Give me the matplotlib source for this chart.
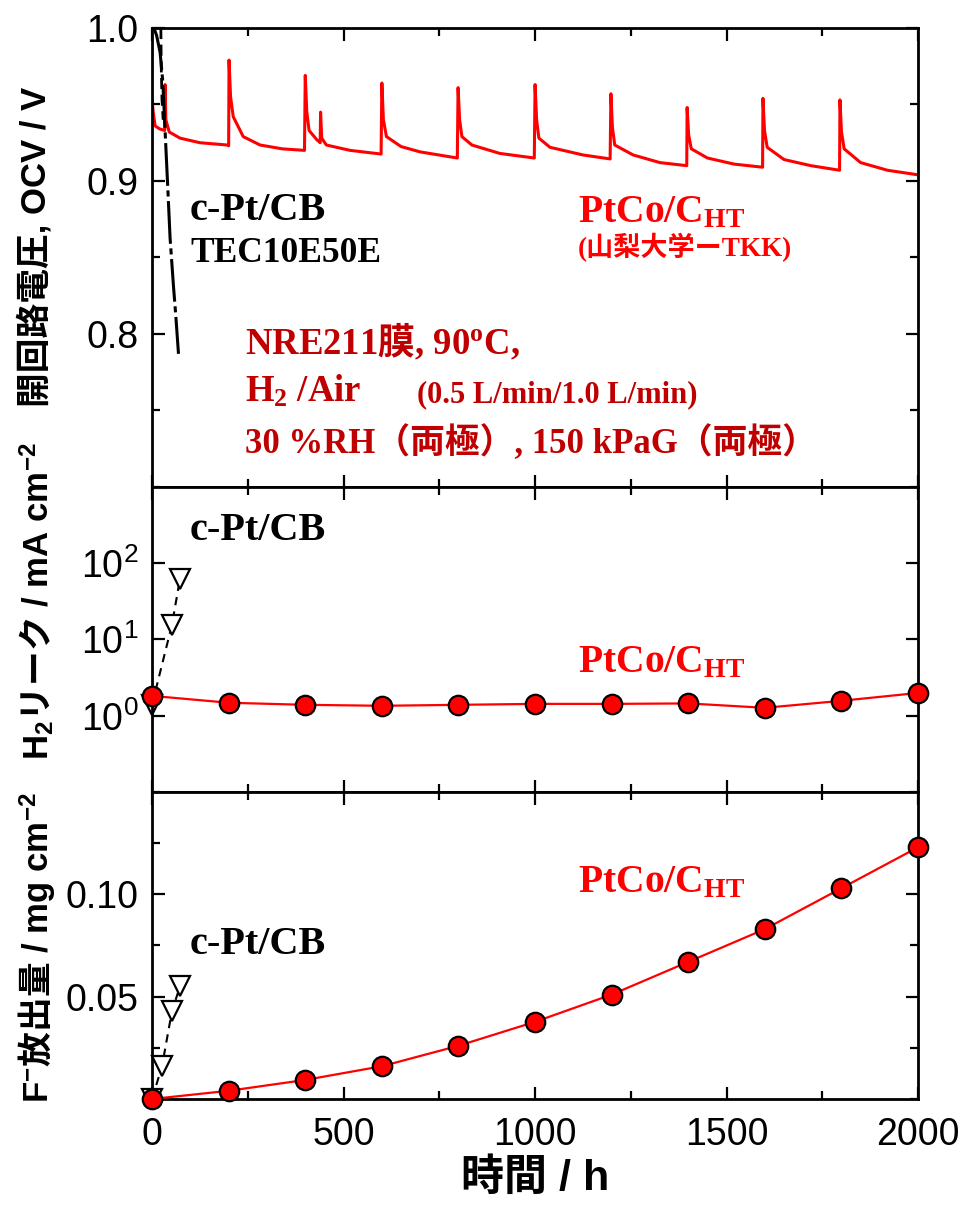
import matplotlib
matplotlib.use('Agg')
import matplotlib.pyplot as plt
from matplotlib.ticker import MultipleLocator, NullLocator

plt.rcParams['font.family'] = ['Liberation Sans', 'Noto Sans CJK JP']
plt.rcParams['mathtext.fontset'] = 'custom'
plt.rcParams['mathtext.rm'] = 'Noto Sans CJK JP:bold'
plt.rcParams['mathtext.it'] = 'Liberation Serif:bold'
plt.rcParams['mathtext.bf'] = 'Liberation Serif:bold'
plt.rcParams['mathtext.sf'] = 'Liberation Sans:bold'
plt.rcParams['mathtext.cal'] = 'Liberation Serif'
plt.rcParams['mathtext.tt'] = 'DejaVu Sans Mono'

# OCV of PtCo/C_HT (h / V)
ptco_ocv_t = [0, 3, 8, 20, 33, 34, 36, 45, 73, 125, 196, 200, 201, 205, 212, 238, 282, 340, 398,
              400, 404, 410, 430, 439, 440, 443, 455, 517, 598, 600, 604, 612, 650, 700, 797,
              799, 803, 809, 835, 908, 998, 1000, 1004, 1010, 1039, 1125, 1196, 1198, 1202, 1208,
              1256, 1326, 1396, 1397, 1401, 1408, 1450, 1520, 1594, 1595, 1599, 1606, 1650, 1720,
              1795, 1796, 1800, 1807, 1850, 1920, 2000]
ptco_ocv_v = [0.953, 0.945, 0.936, 0.934, 0.933, 0.963, 0.940, 0.932, 0.928, 0.925, 0.9235, 0.923,
              0.979, 0.955, 0.942, 0.929, 0.9235, 0.921, 0.920, 0.969, 0.945, 0.933, 0.927, 0.925,
              0.945, 0.928, 0.9235, 0.920, 0.9176, 0.964, 0.940, 0.929, 0.9225, 0.919, 0.915,
              0.961, 0.940, 0.929, 0.9235, 0.918, 0.915, 0.963, 0.940, 0.928, 0.922, 0.917, 0.9144,
              0.957, 0.935, 0.9235, 0.917, 0.912, 0.910, 0.948, 0.930, 0.921, 0.915, 0.911, 0.909,
              0.954, 0.933, 0.922, 0.914, 0.910, 0.907, 0.953, 0.932, 0.921, 0.912, 0.907, 0.904]

# OCV of c-Pt/CB
cpt_ocv_t = [5, 12, 21, 28, 34, 41, 47, 56, 62, 69]
cpt_ocv_v = [1.0, 0.995, 0.984, 0.965, 0.933, 0.896, 0.863, 0.831, 0.812, 0.787]
cpt_ocv2_t = [23, 24, 26, 29]
cpt_ocv2_v = [1.0, 0.975, 0.953, 0.940]

# H2 leak (mA cm-2)
ptco_t = [0, 200, 400, 600, 800, 1000, 1200, 1400, 1600, 1800, 2000]
ptco_leak = [1.82, 1.48, 1.39, 1.35, 1.39, 1.43, 1.43, 1.45, 1.27, 1.57, 1.99]
cpt_leak_t = [0, 52, 73]
cpt_leak = [1.4, 15.6, 63]

# F- release (mg cm-2)
ptco_f = [0.0, 0.004, 0.0093, 0.016, 0.026, 0.0377, 0.051, 0.067, 0.083, 0.103, 0.123]
cpt_f_t = [0, 26, 52, 73]
cpt_f = [0.0, 0.016, 0.043, 0.055]

dark_red = '#C00000'
serif_cjk = ['Liberation Serif', 'Noto Sans CJK JP']

fig = plt.figure(figsize=(9.66, 12.11), dpi=100)
ax1 = fig.add_axes([0.1574, 0.5979, 0.7930, 0.3790])
ax2 = fig.add_axes([0.1574, 0.3460, 0.7930, 0.2519])
ax3 = fig.add_axes([0.1574, 0.0925, 0.7930, 0.2535])

for ax in [ax1, ax2, ax3]:
    ax.set_xlim(0, 2000)
    ax.xaxis.set_major_locator(MultipleLocator(500))
    ax.xaxis.set_minor_locator(MultipleLocator(250))
    ax.tick_params(which='both', direction='in', top=True, right=True, width=1.6,
                   labelsize=27, pad=10)
    ax.tick_params(which='major', length=9)
    ax.tick_params(which='minor', length=5.5)
    for s in ax.spines.values():
        s.set_linewidth(2.0)
ax1.tick_params(labelbottom=False)
ax2.tick_params(labelbottom=False)
ax3.tick_params(axis='x', pad=13)

# top: OCV
ax1.plot(ptco_ocv_t, ptco_ocv_v, color='red', lw=2.2)
ax1.plot(cpt_ocv_t, cpt_ocv_v, color='black', lw=2.2, ls=(0, (14, 1.5, 2, 1.5)))
ax1.plot(cpt_ocv2_t, cpt_ocv2_v, color='black', lw=2.0, ls=(0, (4, 2)))
ax1.set_ylim(0.7, 1.0)
ax1.set_yticks([0.8, 0.9, 1.0])
ax1.set_yticklabels(['0.8', '0.9', '1.0'])
ax1.yaxis.set_minor_locator(MultipleLocator(0.05))

ax1.text(99, 0.8745, 'c-Pt/CB', family='Liberation Serif', weight='bold', size=29, va='baseline')
ax1.text(99, 0.847, 'TEC10E50E', family='Liberation Serif', weight='bold', size=25.5, va='baseline')
ax1.text(1112, 0.873, r'PtCo/C$_\mathit{HT}$', family='Liberation Serif', weight='bold', size=28.5,
         color='red', va='baseline')
ax1.text(1112, 0.851, '(山梨大学ーTKK)', family=serif_cjk, weight='bold', size=19.5,
         color='red', va='baseline')
ax1.text(243, 0.7863, r'NRE211$\mathrm{膜}$, 90$^\mathit{o}$C,', family='Liberation Serif',
         weight='bold', size=26.5, color=dark_red, va='baseline')
ax1.text(243, 0.7556, r'H$_\mathbf{2}$ /Air', family='Liberation Serif', weight='bold', size=26.5,
         color=dark_red, va='baseline')
ax1.text(692, 0.7556, '(0.5 L/min/1.0 L/min)', family='Liberation Serif', weight='bold', size=22,
         color=dark_red, va='baseline')
ax1.text(243, 0.7222, '30 %RH（両極）, 150 kPaG（両極）', family=serif_cjk, weight='bold', size=25,
         color=dark_red, va='baseline')

# middle: H2 leak
ax2.set_yscale('log')
ax2.plot(cpt_leak_t, cpt_leak, color='black', lw=1.5, ls=(0, (4, 3)), marker='v', ms=15,
         mfc='white', mec='black', mew=1.6, clip_on=False)
ax2.plot(ptco_t, ptco_leak, color='red', lw=1.6, marker='o', ms=14, mfc='red', mec='black',
         mew=1.6, clip_on=False, zorder=3)
ax2.set_ylim(0.1, 1000)
ax2.set_yticks([1, 10, 100])
ax2.yaxis.set_minor_locator(NullLocator())
ax2.text(99, 199, 'c-Pt/CB', family='Liberation Serif', weight='bold', size=29, va='baseline')
ax2.text(1112, 3.73, r'PtCo/C$_\mathit{HT}$', family='Liberation Serif', weight='bold', size=28.5,
         color='red', va='baseline')

# bottom: F- release
ax3.plot(cpt_f_t, cpt_f, color='black', lw=1.5, ls=(0, (4, 3)), marker='v', ms=15,
         mfc='white', mec='black', mew=1.6, clip_on=False)
ax3.plot(ptco_t, ptco_f, color='red', lw=1.6, marker='o', ms=14, mfc='red', mec='black',
         mew=1.6, clip_on=False, zorder=3)
ax3.set_ylim(0, 0.15)
ax3.set_yticks([0.05, 0.10])
ax3.set_yticklabels(['0.05', '0.10'])
ax3.yaxis.set_minor_locator(MultipleLocator(0.025))
ax3.text(1112, 0.101, r'PtCo/C$_\mathit{HT}$', family='Liberation Serif', weight='bold', size=28.5,
         color='red', va='baseline')
ax3.text(99, 0.0706, 'c-Pt/CB', family='Liberation Serif', weight='bold', size=29, va='baseline')
ax3.set_xlabel('時間 / h', size=31, weight='bold', labelpad=4)

# y labels
fig.text(0.036, 1 - 247 / 1211, '開回路電圧, OCV / V', rotation=90, size=25, weight='bold',
         ha='center', va='center')
fig.text(0.038, 1 - 601 / 1211, r'H$_\mathsf{2}\mathrm{リーク}$ / mA cm$^{\mathsf{-2}}$',
         rotation=90, size=25, weight='bold', ha='center', va='center')
fig.text(0.038, 1 - 948 / 1211, r'F$^{\mathsf{-}}\mathrm{放出量}$ / mg cm$^{\mathsf{-2}}$',
         rotation=90, size=25, weight='bold', ha='center', va='center')

fig.savefig('out.png', dpi=100)
